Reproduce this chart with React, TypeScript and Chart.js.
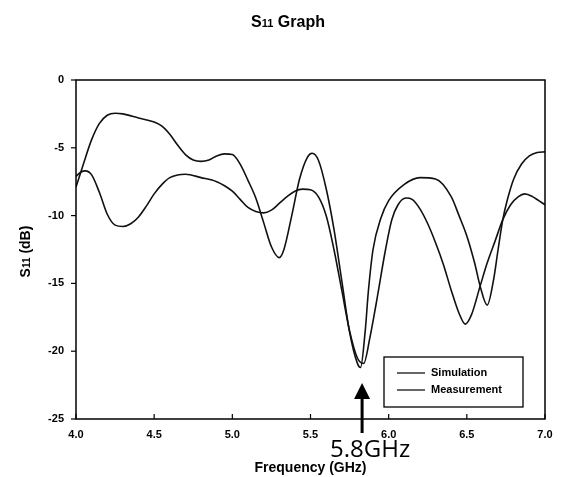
import React, { useEffect, useRef } from 'react';
import { Chart, registerables } from 'chart.js';

Chart.register(...registerables);

// ---- Data ----
const seriesLabels = ['Simulation', 'Measurement'];

const simFreq = [4.0, 4.05, 4.1, 4.15, 4.2, 4.25, 4.3, 4.4, 4.5, 4.55, 4.6, 4.65, 4.7, 4.75, 4.8, 4.85, 4.9, 4.95, 5.0, 5.05, 5.1, 5.15, 5.2, 5.25, 5.3, 5.33, 5.38, 5.43, 5.48, 5.51, 5.55, 5.6, 5.65, 5.7, 5.75, 5.8, 5.82, 5.85, 5.87, 5.9, 5.95, 6.0, 6.1, 6.2, 6.3, 6.4, 6.45, 6.5, 6.55, 6.585, 6.63, 6.67, 6.7, 6.73, 6.76, 6.8, 6.85, 6.9, 6.95, 7.0];
const simDb = [-7.9, -6.1, -4.4, -3.2, -2.6, -2.45, -2.5, -2.8, -3.1, -3.4, -4.0, -4.8, -5.5, -5.9, -6.0, -5.9, -5.6, -5.45, -5.5, -6.2, -7.4, -8.7, -10.5, -12.3, -13.1, -12.5, -10.0, -7.3, -5.7, -5.4, -5.9, -8.0, -11.0, -14.8, -18.6, -20.9, -21.2, -18.5, -15.6, -12.5, -10.2, -8.9, -7.7, -7.2, -7.3, -8.6, -10.0, -11.5, -13.5, -15.2, -16.6, -14.8, -12.5, -10.3, -8.8, -7.3, -6.2, -5.6, -5.35, -5.3];

const measFreq = [4.0, 4.03, 4.06, 4.1, 4.15, 4.2, 4.25, 4.3, 4.35, 4.4, 4.45, 4.5, 4.55, 4.6, 4.65, 4.7, 4.8, 4.9, 4.95, 5.0, 5.05, 5.1, 5.15, 5.2, 5.25, 5.3, 5.35, 5.4, 5.45, 5.5, 5.55, 5.6, 5.65, 5.7, 5.75, 5.8, 5.84, 5.88, 5.92, 5.98, 6.02, 6.06, 6.11, 6.15, 6.2, 6.25, 6.3, 6.35, 6.4, 6.45, 6.49, 6.53, 6.585, 6.63, 6.68, 6.73, 6.78, 6.83, 6.87, 6.92, 6.96, 7.0];
const measDb = [-7.1, -6.8, -6.7, -7.0, -8.3, -9.9, -10.7, -10.8, -10.6, -10.1, -9.3, -8.4, -7.7, -7.2, -7.0, -6.95, -7.2, -7.5, -7.8, -8.2, -8.8, -9.4, -9.7, -9.8, -9.6, -9.1, -8.6, -8.2, -8.05, -8.1, -8.6, -10.0, -12.5, -15.5, -18.5, -20.5, -20.9, -19.0, -16.5, -12.5, -10.3, -9.2, -8.7, -8.8, -9.5, -10.6, -12.0, -13.6, -15.5, -17.2, -18.0, -17.3, -15.2, -13.5, -11.9, -10.3, -9.2, -8.6, -8.4, -8.6, -8.9, -9.2];

const xMin = 4.0;
const xMax = 7.0;
const xStep = 0.5;
const yMin = -25;
const yMax = 0;
const yStep = 5;

const titleMain = 'S';
const titleSub = '11';
const titleRest = ' Graph';
const yTitleMain = 'S';
const yTitleSub = '11';
const yTitleRest = ' (dB)';
const xTitle = 'Frequency (GHz)';

const markerFreq = 5.83;
const markerText = '5.8GHz';

const W = 563;
const H = 477;

function drawSubText(ctx: CanvasRenderingContext2D, x: number, y: number, main: string, sub: string, rest: string, big: number, small: number) {
  ctx.font = `bold ${big}px "Liberation Sans", Arial, sans-serif`;
  const w1 = ctx.measureText(main).width;
  const w3 = ctx.measureText(rest).width;
  ctx.font = `bold ${small}px "Liberation Sans", Arial, sans-serif`;
  const w2 = ctx.measureText(sub).width;
  const total = w1 + w2 + w3;
  let cx = x - total / 2;
  ctx.textAlign = 'left';
  ctx.textBaseline = 'alphabetic';
  ctx.font = `bold ${big}px "Liberation Sans", Arial, sans-serif`;
  ctx.fillText(main, cx, y);
  cx += w1;
  ctx.font = `bold ${small}px "Liberation Sans", Arial, sans-serif`;
  ctx.fillText(sub, cx, y);
  cx += w2;
  ctx.font = `bold ${big}px "Liberation Sans", Arial, sans-serif`;
  ctx.fillText(rest, cx, y);
}

const decorPlugin = {
  id: 'decor',
  afterDraw(chart: any) {
    const { ctx, chartArea, scales } = chart;
    const xs = scales.x;
    const ys = scales.y;
    const { left, right, top, bottom } = chartArea;
    ctx.save();
    ctx.strokeStyle = '#000';
    ctx.fillStyle = '#000';

    // frame
    ctx.lineWidth = 1.5;
    ctx.strokeRect(left, top, right - left, bottom - top);

    // ticks
    ctx.lineWidth = 1.2;
    ys.ticks.forEach((t: any) => {
      const y = ys.getPixelForValue(t.value);
      ctx.beginPath();
      ctx.moveTo(left - 5, y);
      ctx.lineTo(left, y);
      ctx.stroke();
    });
    xs.ticks.forEach((t: any) => {
      const x = xs.getPixelForValue(t.value);
      ctx.beginPath();
      ctx.moveTo(x, bottom);
      ctx.lineTo(x, bottom - 5);
      ctx.stroke();
    });

    // title
    drawSubText(ctx, 288, 27, titleMain, titleSub, titleRest, 16, 11);

    // x title
    ctx.font = 'bold 14px "Liberation Sans", Arial, sans-serif';
    ctx.textAlign = 'center';
    ctx.textBaseline = 'alphabetic';
    ctx.fillText(xTitle, (left + right) / 2, 472);

    // y title
    ctx.save();
    ctx.translate(30, (top + bottom) / 2 + 2);
    ctx.rotate(-Math.PI / 2);
    drawSubText(ctx, 0, 0, yTitleMain, yTitleSub, yTitleRest, 14, 10);
    ctx.restore();

    // legend
    const bx = 384, by = 357, bw = 139, bh = 50;
    ctx.fillStyle = '#fff';
    ctx.fillRect(bx, by, bw, bh);
    ctx.fillStyle = '#000';
    ctx.lineWidth = 1.3;
    ctx.strokeRect(bx, by, bw, bh);
    ctx.font = 'bold 11px "Liberation Sans", Arial, sans-serif';
    ctx.textAlign = 'left';
    ctx.textBaseline = 'middle';
    seriesLabels.forEach((lab, i) => {
      const ly = by + 16 + i * 17;
      ctx.lineWidth = 1.2;
      ctx.beginPath();
      ctx.moveTo(bx + 13, ly);
      ctx.lineTo(bx + 41, ly);
      ctx.stroke();
      ctx.fillText(lab, bx + 47, ly);
    });

    // arrow + annotation
    const ax = xs.getPixelForValue(markerFreq);
    ctx.lineWidth = 3;
    ctx.beginPath();
    ctx.moveTo(ax, 396);
    ctx.lineTo(ax, 433);
    ctx.stroke();
    ctx.beginPath();
    ctx.moveTo(ax, 383);
    ctx.lineTo(ax - 8, 399);
    ctx.lineTo(ax + 8, 399);
    ctx.closePath();
    ctx.fill();

    ctx.font = '24px "Open Sans", "Noto Sans", sans-serif';
    ctx.textAlign = 'center';
    ctx.textBaseline = 'alphabetic';
    ctx.fillText(markerText, ax + 8, 457);

    ctx.restore();
  },
};

export default function App() {
  const ref = useRef<HTMLCanvasElement | null>(null);

  useEffect(() => {
    if (!ref.current) return;
    const toPts = (xs: number[], ys: number[]) => xs.map((x, i) => ({ x, y: ys[i] }));
    const chart = new Chart(ref.current, {
      type: 'line',
      data: {
        datasets: [
          {
            label: seriesLabels[0],
            data: toPts(simFreq, simDb),
            borderColor: '#111',
            borderWidth: 1.6,
            pointRadius: 0,
            cubicInterpolationMode: 'monotone',
            fill: false,
          },
          {
            label: seriesLabels[1],
            data: toPts(measFreq, measDb),
            borderColor: '#111',
            borderWidth: 1.6,
            pointRadius: 0,
            cubicInterpolationMode: 'monotone',
            fill: false,
          },
        ],
      },
      options: {
        animation: false,
        responsive: false,
        devicePixelRatio: 1,
        layout: { padding: { top: 80, right: 18, left: 0, bottom: 0 } },
        plugins: {
          legend: { display: false },
          title: { display: false },
          tooltip: { enabled: false },
        },
        scales: {
          x: {
            type: 'linear',
            min: xMin,
            max: xMax,
            grid: { display: false },
            border: { display: false },
            ticks: {
              stepSize: xStep,
              padding: 1,
              color: '#000',
              font: { family: '"Liberation Sans", Arial, sans-serif', size: 11, weight: 'bold' },
              callback: (v: any) => Number(v).toFixed(1),
              maxRotation: 0,
            },
            afterFit: (s: any) => {
              s.height = 58;
            },
          },
          y: {
            type: 'linear',
            min: yMin,
            max: yMax,
            grid: { display: false },
            border: { display: false },
            ticks: {
              stepSize: yStep,
              padding: 4,
              color: '#000',
              font: { family: '"Liberation Sans", Arial, sans-serif', size: 11, weight: 'bold' },
            },
            afterFit: (s: any) => {
              s.width = 76;
            },
          },
        },
      },
      plugins: [decorPlugin],
    });
    return () => chart.destroy();
  }, []);

  return (
    <div style={{ position: 'absolute', left: 0, top: 0, width: W, height: H, background: '#fff' }}>
      <canvas ref={ref} width={W} height={H} style={{ display: 'block', width: W, height: H }} />
    </div>
  );
}
